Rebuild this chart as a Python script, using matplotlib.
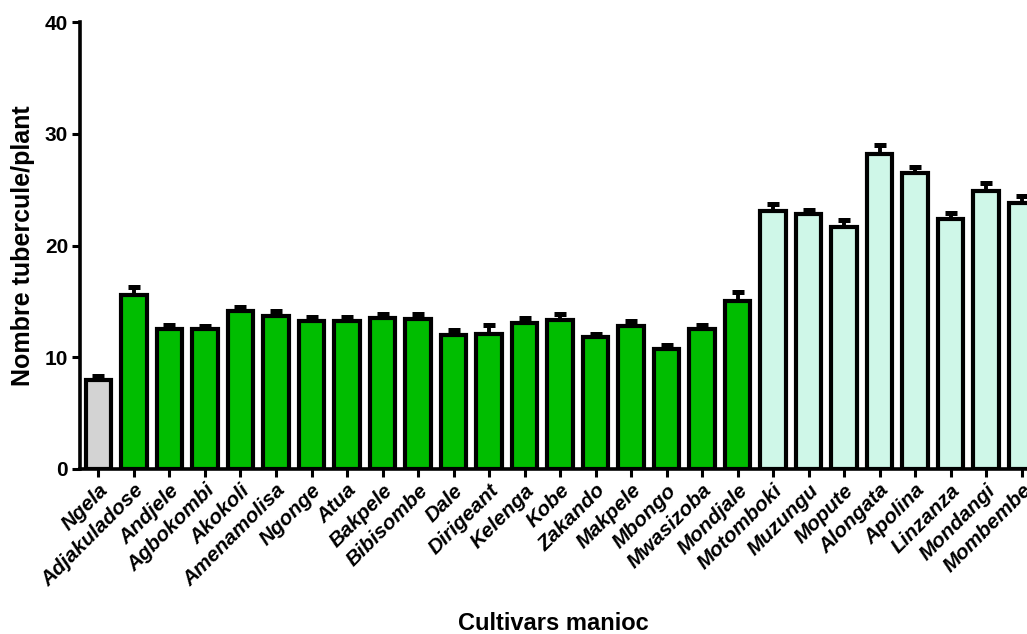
import numpy as np
import matplotlib
matplotlib.use("Agg")
import matplotlib.pyplot as plt

# Nombre moyen de tubercules par plant et erreur standard par cultivar
cultivars = ["Ngela", "Adjakuladose", "Andjele", "Agbokombi", "Akokoli",
             "Amenamolisa", "Ngonge", "Atua", "Bakpele", "Bibisombe", "Dale",
             "Dirigeant", "Kelenga", "Kobe", "Zakando", "Makpele", "Mbongo",
             "Mwasizoba", "Mondjale", "Motomboki", "Muzungu", "Mopute",
             "Alongata", "Apolina", "Linzanza", "Mondangi", "Mombembe"]
moyennes = [8.0, 15.6, 12.5, 12.5, 14.1, 13.7, 13.2, 13.2, 13.5, 13.4, 12.0,
            12.1, 13.1, 13.3, 11.8, 12.8, 10.7, 12.5, 15.0, 23.1, 22.8, 21.7,
            28.2, 26.5, 22.4, 24.9, 23.8]
erreurs = [0.3, 0.7, 0.4, 0.3, 0.4, 0.4, 0.4, 0.4, 0.4, 0.5, 0.4, 0.8, 0.4,
           0.6, 0.3, 0.4, 0.4, 0.4, 0.8, 0.6, 0.4, 0.6, 0.8, 0.5, 0.5, 0.7, 0.6]
# groupe : 0 = témoin, 1 = locaux, 2 = améliorés
groupes = [0] + [1] * 18 + [2] * 8

couleurs_groupe = {0: "#d3d3d3", 1: "#00bd00", 2: "#cff7e8"}

plt.rcParams["font.family"] = ["Liberation Sans", "DejaVu Sans"]

fig = plt.figure(figsize=(10.27, 6.34), dpi=100)
ax = fig.add_axes([80 / 1027, 165 / 634, 947 / 1027, 447 / 634])

x = np.arange(len(cultivars))
couleurs = [couleurs_groupe[g] for g in groupes]
ax.bar(x, moyennes, width=0.72, color=couleurs, edgecolor="black",
       linewidth=3.0, zorder=2)
ax.errorbar(x, moyennes, yerr=[np.zeros(len(erreurs)), erreurs], fmt="none",
            ecolor="black", elinewidth=2.8, capsize=4.5, capthick=3.6,
            zorder=1)

ax.set_xlim(-0.52, 26.15)
ax.set_ylim(0, 40)
ax.set_yticks([0, 10, 20, 30, 40])
ax.set_xticks(x)
ax.set_xticklabels(cultivars, rotation=45, ha="right", va="top",
                   rotation_mode="anchor", fontsize=15, fontweight="bold",
                   fontstyle="italic")
for lab in ax.get_yticklabels():
    lab.set_fontweight("bold")
    lab.set_fontsize(15)

for side in ("top", "right"):
    ax.spines[side].set_visible(False)
for side in ("left", "bottom"):
    ax.spines[side].set_linewidth(2.6)
ax.tick_params(axis="both", direction="out", length=5.5, width=2.2, pad=3)

ax.set_ylabel("Nombre tubercule/plant", fontsize=18, fontweight="bold",
              labelpad=7)
ax.set_xlabel("Cultivars manioc", fontsize=17, fontweight="bold",
              labelpad=16)

fig.savefig("out.png", dpi=100)
